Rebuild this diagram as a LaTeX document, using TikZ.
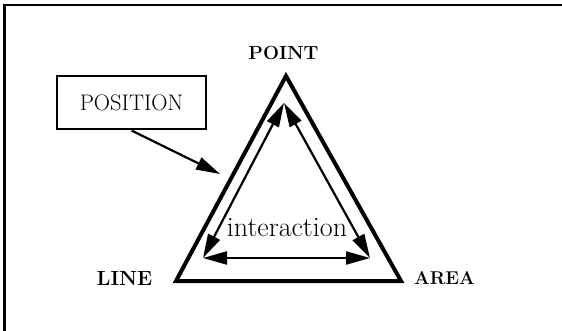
\documentclass[tikz,border=0pt]{standalone}
\usetikzlibrary{arrows.meta}
\begin{document}
\begin{tikzpicture}[x=1pt,y=-1pt,
  frameline/.style={line width=2.5pt},
  outertri/.style={line width=4pt, line join=miter},
  headtip/.tip={Triangle[length=24pt,width=13pt]},
  twoway/.style={line width=2.2pt, {headtip}-{headtip}},
  oneway/.style={line width=2.2pt, -{headtip}},
  lbl/.style={font=\fontsize{19}{22}\selectfont\bfseries, inner sep=0pt},
  boxstyle/.style={draw, line width=2pt, minimum width=149pt, minimum height=53pt, font=\fontsize{22.5}{26}\selectfont, inner sep=0pt},
  midtext/.style={font=\fontsize{28}{30}\selectfont, inner sep=0pt},
]
\useasboundingbox (0,0) rectangle (562,331);
% frame
\draw[frameline] (4.5,331) -- (4.5,5) -- (562,5);
% outer triangle
\coordinate (P) at (286,76);
\coordinate (L) at (176,281);
\coordinate (A) at (401,281);
\draw[outertri] (P) -- (L) -- (A) -- cycle;
% inner vertices
\coordinate (iP) at (284,103);
\coordinate (iL) at (203,258);
\coordinate (iA) at (370,258);
\draw[twoway] (iL) -- (iP);
\draw[twoway] (iP) -- (iA);
\draw[twoway] (iL) -- (iA);
% labels
\node[lbl] (point) at (283.5,53) {POINT};
\node[lbl, font=\fontsize{20.5}{22}\selectfont\bfseries] (line) at (124.5,278) {LINE};
\node[lbl, font=\fontsize{18.5}{22}\selectfont\bfseries] (area) at (444.5,278) {AREA};
\node[midtext] (inter) at (287,228) {interaction};
% position box
\node[boxstyle] (pos) at (131.5,103) {POSITION};
\coordinate (posTip) at (220,174);
\draw[oneway] (pos.south) -- (posTip);
\end{tikzpicture}
\end{document}
